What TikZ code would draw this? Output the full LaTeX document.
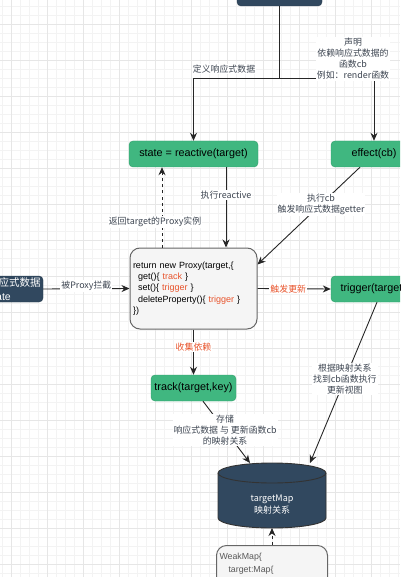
\documentclass[tikz,border=0pt]{standalone}
\usepackage{fontspec}
\setmainfont{Liberation Sans}
\newfontfamily\cjk{Noto Sans CJK SC}
\usetikzlibrary{arrows.meta}
\definecolor{boxgreen}{RGB}{64,183,128}
\definecolor{boxgreenline}{RGB}{48,158,106}
\definecolor{slate}{RGB}{49,72,95}
\definecolor{txtgray}{RGB}{62,70,82}
\definecolor{hot}{RGB}{232,84,44}
\definecolor{gridlo}{RGB}{243,243,243}
\definecolor{gridhi}{RGB}{230,230,230}
\definecolor{paper}{RGB}{245,245,245}

\begin{document}
\begin{tikzpicture}[x=1pt,y=-1pt,
    greenbox/.style={draw=boxgreenline,fill=boxgreen,rounded corners=4pt,minimum height=26pt,inner sep=0pt,font=\fontsize{10.8}{13}\selectfont},
    slatebox/.style={draw=slate!80!black,fill=slate,rounded corners=4pt,minimum height=26pt,inner sep=0pt,text=white},
    codebox/.style={draw=black!60,fill=paper,line width=1pt,rounded corners=10pt,inner sep=3pt,align=left},
    lbl/.style={fill=white,text=txtgray,inner sep=1pt,align=center,font=\cjk\fontsize{8.9}{11}\selectfont},
    arr/.style={draw=black!85,line width=0.9pt,-{Stealth[length=8pt,width=7pt]}},
    dotted arr/.style={arr,dash pattern=on 3pt off 3pt},
    gridminor/.style={draw=gridlo,line width=0.6pt},
    gridmajor/.style={draw=gridhi,line width=0.8pt}]
    \useasboundingbox (0,0) rectangle (400,577);
    \clip (0,0) rectangle (400,577);

    % background grid
    \fill[white] (0,0) rectangle (400,577);
    \foreach \gx in {2,11,...,398} \draw[gridminor] (\gx,0) -- (\gx,577);
    \foreach \gy in {6,15,...,576} \draw[gridminor] (0,\gy) -- (400,\gy);
    \foreach \gx in {11,47,...,398} \draw[gridmajor] (\gx,0) -- (\gx,577);
    \foreach \gy in {24,60,...,576} \draw[gridmajor] (0,\gy) -- (400,\gy);

    % boxes
    \node[slatebox,minimum width=85pt](top)at(279.5,-7) {};
    \node[greenbox,minimum width=129pt](state)at(193.5,154) {state = reactive(target)};
    \node[greenbox,minimum width=86pt](effect)at(374,154) {effect(cb)};
    \node[slatebox,minimum width=67pt,text width=43pt,align=left,font=\fontsize{10.5}{14}\selectfont](src)at(9.5,289) {{\cjk 响应式数据}\\state};
    \node[codebox,minimum width=127pt,minimum height=81pt,text width=121pt,font=\fontsize{9}{11.3}\selectfont](proxy)at(193.5,288.5)
        {return new Proxy(target,\{\\
         \hspace*{5pt}get()\{ \textcolor{hot}{track} \}\\
         \hspace*{5pt}set()\{ \textcolor{hot}{trigger} \}\\
         \hspace*{5pt}deleteProperty()\{ \textcolor{hot}{trigger} \}\\
         \})};
    \node[greenbox,minimum width=104pt,text width=85pt](trigger)at(383,289) {trigger(target,key)};
    \node[greenbox,minimum width=85pt](track)at(193.5,388) {track(target,key)};

    % targetMap store
    \draw[fill=slate,draw=black!80,line width=0.9pt] (218,473) -- (218,518)
        arc[start angle=180,end angle=360,x radius=54pt,y radius=10pt] -- (326,473)
        arc[start angle=0,end angle=180,x radius=54pt,y radius=10pt] -- cycle;
    \draw[draw=black!80,line width=0.9pt] (218,473) arc[start angle=180,end angle=360,x radius=54pt,y radius=10pt];
    \node[text=white,align=center,font=\cjk\fontsize{9}{12}\selectfont](map)at(272,505) {targetMap\\映射关系};
    \coordinate(maptopl)at(250,463);
    \coordinate(maptopr)at(310,463);
    \coordinate(mapbot)at(272,528);

    \node[codebox,anchor=north,minimum width=111pt,text width=105pt,inner ysep=8pt,text=black!65,font=\fontsize{8.8}{13}\selectfont](weak)at(272,545)
        {WeakMap\{\\\hspace*{9pt}target:Map\{\\[30pt]\mbox{}};

    % connectors
    \draw[arr](top.south) -- ++(0,72) -| (state.north);
    \draw[arr](top.south) -- ++(0,72) -| (effect.north);
    \node[lbl](define)at(224,69) {定义响应式数据};
    \node[lbl](declare)at(353,59) {声明\\依赖响应式数据的\\函数cb\\例如：render函数};

    \draw[dotted arr]([xshift=-31.5pt]proxy.north) -- node[lbl,pos=0.32,xshift=-7pt]{返回target的Proxy实例} ([xshift=-31.5pt]state.south);
    \draw[arr]([xshift=32.5pt]state.south) -- node[lbl,pos=0.35]{执行reactive} ([xshift=32.5pt]proxy.north);
    \draw[arr]([xshift=-14pt]effect.south) -- node[lbl,pos=0.38]{执行cb\\触发响应式数据getter} ([yshift=-17pt]proxy.north east);

    \draw[arr](src.east) -- node[lbl,yshift=3pt]{被Proxy拦截} (proxy.west);
    \draw[arr](proxy.east) -- node[lbl,pos=0.42,text=hot]{触发更新} (trigger.west);
    \draw[arr](proxy.south) -- node[lbl,pos=0.39,text=hot]{收集依赖} (track.north);

    \draw[arr]([xshift=9.5pt]track.south) -- node[lbl,pos=0.47]{存储\\响应式数据 与 更新函数cb\\的映射关系} (maptopl);
    \draw[arr]([xshift=-6pt]trigger.south) -- node[lbl,pos=0.48]{根据映射关系\\找到cb函数执行\\更新视图} (maptopr);
    \draw[dotted arr](weak.north) -- (mapbot);
\end{tikzpicture}
\end{document}
